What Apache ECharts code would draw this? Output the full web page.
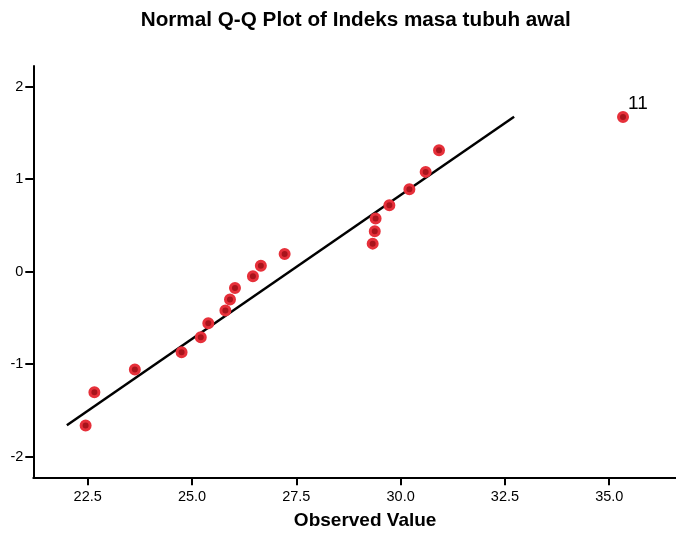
<!DOCTYPE html>
<html>
<head>
<meta charset="utf-8">
<script src="https://cdn.jsdelivr.net/npm/echarts@6/dist/echarts.min.js"></script>
<style>
html,body{margin:0;padding:0;background:#fff;}
#chart{width:676px;height:533px;}
</style>
</head>
<body>
<div id="chart"></div>
<script>
// Observed values (BMI) and expected normal values
var observedValues = [22.45, 22.66, 23.63, 24.75, 25.21, 25.39, 25.80, 25.91, 26.03, 26.46, 26.65, 27.22, 29.33, 29.38, 29.40, 29.73, 30.21, 30.60, 30.92, 35.33];
var expectedNormal = [-1.665, -1.304, -1.058, -0.871, -0.709, -0.557, -0.419, -0.300, -0.177, -0.051, 0.065, 0.191, 0.303, 0.437, 0.574, 0.718, 0.892, 1.079, 1.314, 1.672];
var caseLabels = ['', '', '', '', '', '', '', '', '', '', '', '', '', '', '', '', '', '', '', '11'];
var refLineX = [22.0, 32.72];
var refLineY = [-1.662, 1.675];
var xTickValues = [22.5, 25.0, 27.5, 30.0, 32.5, 35.0];
var yTickValues = [-2, -1, 0, 1, 2];

var FONT = '"Liberation Sans", Arial, sans-serif';

var pointData = observedValues.map(function (v, i) {
  var d = { value: [v, expectedNormal[i]], name: caseLabels[i] };
  if (caseLabels[i]) {
    d.label = {
      show: true,
      formatter: '{b}',
      position: [11, -17],
      fontFamily: FONT,
      fontSize: 19,
      color: '#000'
    };
  }
  return d;
});
var lineData = refLineX.map(function (v, i) { return [v, refLineY[i]]; });

var chart = echarts.init(document.getElementById('chart'), null, { renderer: 'canvas' });
chart.setOption({
  animation: false,
  backgroundColor: '#fff',
  graphic: [{
    type: 'text',
    x: 355.7,
    y: 20,
    style: {
      text: 'Normal Q-Q Plot of Indeks masa tubuh awal',
      font: 'bold 20.7px ' + FONT,
      fill: '#000',
      textAlign: 'center',
      textVerticalAlign: 'middle'
    }
  }],
  grid: { left: 33.3, right: 0, top: 66, bottom: 55.7, containLabel: false, outerBoundsMode: 'none' },
  xAxis: {
    type: 'value',
    min: 21.196,
    max: 36.6,
    name: 'Observed Value',
    nameLocation: 'middle',
    nameGap: 34,
    nameTextStyle: { fontFamily: FONT, fontSize: 19, fontWeight: 'bold', color: '#000', padding: [0, 0, 0, 21] },
    axisLine: { show: true, onZero: false, lineStyle: { color: '#000', width: 2 } },
    axisTick: { show: true, length: 8, customValues: xTickValues, lineStyle: { color: '#000', width: 2 } },
    axisLabel: {
      customValues: xTickValues,
      margin: 12,
      fontFamily: FONT, fontSize: 14.5, color: '#000',
      formatter: function (v) { return v.toFixed(1); }
    },
    splitLine: { show: false }
  },
  yAxis: {
    type: 'value',
    min: -2.224,
    max: 2.224,
    axisLine: { show: true, onZero: false, lineStyle: { color: '#000', width: 2 } },
    axisTick: { show: true, length: 8, customValues: yTickValues, lineStyle: { color: '#000', width: 2 } },
    axisLabel: {
      customValues: yTickValues,
      margin: 10,
      fontFamily: FONT, fontSize: 14.5, color: '#000',
      formatter: function (v) { return String(Math.round(v)); }
    },
    splitLine: { show: false }
  },
  series: [{
    type: 'line',
    data: lineData,
    symbol: 'none',
    lineStyle: { color: '#000', width: 2.5 },
    z: 2
  }, {
    type: 'scatter',
    data: pointData,
    symbol: 'circle',
    symbolSize: 9,
    itemStyle: { color: '#a8141c', borderColor: '#e6303a', borderWidth: 3, opacity: 1 },
    z: 3
  }]
});
</script>
</body>
</html>
